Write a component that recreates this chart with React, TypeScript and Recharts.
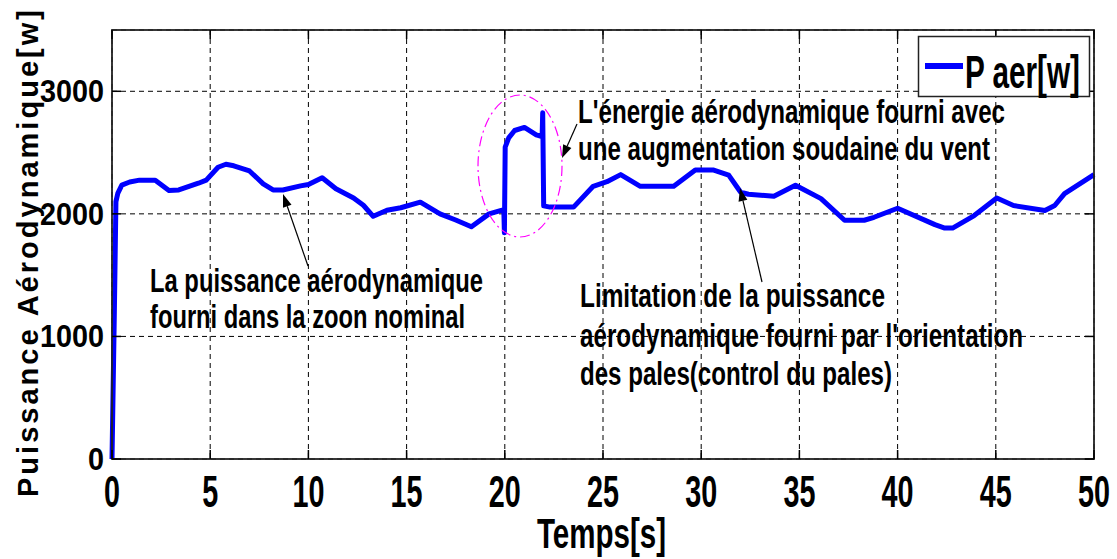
import React from "react";
import { LineChart, Line, XAxis, YAxis, CartesianGrid } from "recharts";

// temps [s] et puissance aérodynamique [W]
const time = [
  0, 0.12, 0.2, 0.3, 0.5, 0.9, 1.4, 2.2, 2.9, 3.4, 4.4, 4.8, 5.4, 5.8, 6.2,
  7.0, 7.7, 8.2, 8.7, 9.6, 10.0, 10.7, 11.4, 12.3, 12.8, 13.3, 14.0, 14.7,
  15.7, 16.7, 17.5, 18.3, 19.2, 19.95, 19.98, 20.02, 20.2, 20.5, 21.0, 21.6,
  21.9, 21.93, 21.98, 22.3, 23.5, 24.5, 25.2, 25.9, 26.9, 28.6, 29.7, 30.6,
  31.4, 32.0, 32.4, 33.7, 34.8, 36.1, 37.3, 38.3, 38.8, 40.0, 41.9, 42.4,
  42.8, 43.9, 45.05, 45.9, 47.5, 48.0, 48.5, 50,
];
const power = [
  0, 1200, 2100, 2170, 2235, 2260, 2275, 2275, 2190, 2195, 2250, 2275, 2380,
  2405, 2392, 2350, 2245, 2195, 2195, 2228, 2240, 2295, 2205, 2130, 2070,
  1980, 2030, 2050, 2095, 2000, 1950, 1895, 2000, 2035, 1845, 2545, 2620,
  2680, 2705, 2645, 2630, 2825, 2065, 2055, 2055, 2225, 2262, 2320, 2225,
  2225, 2358, 2358, 2316, 2178, 2160, 2143, 2234, 2124, 1948, 1948, 1972,
  2046, 1912, 1884, 1884, 1986, 2129, 2068, 2027, 2068, 2165, 2320,
];

const xTicks = [0, 5, 10, 15, 20, 25, 30, 35, 40, 45, 50];
const yTicks = [0, 1000, 2000, 3000];

const W = 1117;
const H = 559;
// zone de tracé
const L = 112;
const R = 1094;
const T = 30;
const B = 459;
const FONT = "'Liberation Sans', Arial, sans-serif";

const rows = time.map((t, i) => ({ t, p: power[i] }));

function XTick({ x, payload }: any) {
  return (
    <text x={x} y={507} fontSize={44} fontWeight="bold" fontFamily={FONT}
      fill="#000" textAnchor="middle"
      textLength={String(payload.value).length * 16}
      lengthAdjust="spacingAndGlyphs">
      {payload.value}
    </text>
  );
}

function YTick({ y, payload }: any) {
  const s = String(payload.value);
  return (
    <text x={104} y={y + 11} fontSize={32} fontWeight="bold" fontFamily={FONT}
      fill="#000" textAnchor="end" textLength={s.length * 16}
      lengthAdjust="spacingAndGlyphs">
      {s}
    </text>
  );
}

function Arrow({ x1, y1, x2, y2 }: { x1: number; y1: number; x2: number; y2: number }) {
  const a = Math.atan2(y2 - y1, x2 - x1);
  const len = 13;
  const hw = 4.5;
  const bx = x2 - len * Math.cos(a);
  const by = y2 - len * Math.sin(a);
  const p1 = `${bx + hw * Math.sin(a)},${by - hw * Math.cos(a)}`;
  const p2 = `${bx - hw * Math.sin(a)},${by + hw * Math.cos(a)}`;
  return (
    <g>
      <line x1={x1} y1={y1} x2={bx} y2={by} stroke="#000" strokeWidth={1.2} />
      <polygon points={`${x2},${y2} ${p1} ${p2}`} fill="#000" />
    </g>
  );
}

function Note({ x, y, w, children }: any) {
  return (
    <text x={x} y={y} fontSize={33} fontWeight="bold" fontFamily={FONT}
      fill="#000" textLength={w} lengthAdjust="spacingAndGlyphs">
      {children}
    </text>
  );
}

export default function App() {
  return (
    <div style={{ position: "absolute", left: 0, top: 0, width: W, height: H, background: "#fff" }}>
      <LineChart width={W} height={H} data={rows}
        margin={{ top: T, right: W - R, bottom: 0, left: 0 }}>
        <CartesianGrid stroke="#000" strokeWidth={1} strokeDasharray="5 4" />
        <XAxis type="number" dataKey="t" domain={[0, 50]} ticks={xTicks}
          interval={0} height={H - B} axisLine={false} tickLine={false}
          tick={<XTick />}
          label={{
            content: () => (
              <text x={537} y={548} fontSize={42} fontWeight="bold" fontFamily={FONT}
                fill="#000" textLength={129} lengthAdjust="spacingAndGlyphs">
                Temps[s]
              </text>
            ),
          }} />
        <YAxis type="number" domain={[0, 3500]} ticks={yTicks} interval={0}
          width={L} axisLine={false} tickLine={false} tick={<YTick />}
          label={{
            content: () => (
              <text transform="translate(38, 497) rotate(-90)" x={0} y={0}
                fontSize={29} fontWeight="bold" fontFamily={FONT} fill="#000"
                textLength={487} lengthAdjust="spacing">
                Puissance Aérodynamique[w]
              </text>
            ),
          }} />
        <Line type="linear" dataKey="p" name="P aer[w]" stroke="#0000ff"
          strokeWidth={5} strokeLinejoin="round" dot={false}
          isAnimationActive={false} />
      </LineChart>

      <svg width={W} height={H} style={{ position: "absolute", left: 0, top: 0, pointerEvents: "none" }}>
        {/* cadre et graduations intérieures */}
        <rect x={L} y={T} width={R - L} height={B - T} fill="none" stroke="#222" strokeWidth={1.8} />
        {xTicks.map((v) => {
          const x = L + (v / 50) * (R - L);
          return (
            <g key={"x" + v}>
              <line x1={x} y1={B} x2={x} y2={B - 9} stroke="#000" strokeWidth={1.5} />
              <line x1={x} y1={T} x2={x} y2={T + 9} stroke="#000" strokeWidth={1.5} />
            </g>
          );
        })}
        {yTicks.map((v) => {
          const y = B - (v / 3500) * (B - T);
          return (
            <g key={"y" + v}>
              <line x1={L} y1={y} x2={L + 9} y2={y} stroke="#000" strokeWidth={1.5} />
              <line x1={R} y1={y} x2={R - 9} y2={y} stroke="#000" strokeWidth={1.5} />
            </g>
          );
        })}

        {/* légende */}
        <rect x={918.5} y={36.5} width={171} height={60} fill="#fff" stroke="#222" strokeWidth={1.5} />
        <line x1={925} y1={66} x2={963} y2={66} stroke="#0000ff" strokeWidth={6} />
        <text x={965} y={88} fontSize={46} fontWeight="bold" fontFamily={FONT} fill="#000"
          textLength={115} lengthAdjust="spacingAndGlyphs">
          P aer[w]
        </text>

        {/* zone de la rafale */}
        <ellipse cx={520} cy={166} rx={42} ry={71} fill="none" stroke="#ff00ff"
          strokeWidth={1.2} strokeDasharray="10 4 2 4" />

        <Note x={150} y={292} w={333}>La puissance aérodynamique</Note>
        <Note x={150} y={328} w={315}>fourni dans la zoon nominal</Note>
        <Arrow x1={308} y1={266} x2={283} y2={194} />

        <Note x={578} y={123} w={427}>L'énergie aérodynamique fourni avec</Note>
        <Note x={578} y={160} w={412}>une augmentation soudaine du vent</Note>
        <Arrow x1={577} y1={124} x2={562} y2={158} />

        <Note x={580} y={307} w={305}>Limitation de la puissance</Note>
        <Note x={580} y={347} w={443}>aérodynamique fourni par l'orientation</Note>
        <Note x={580} y={385} w={312}>des pales(control du pales)</Note>
        <Arrow x1={762} y1={282} x2={740} y2={188} />
      </svg>
    </div>
  );
}
